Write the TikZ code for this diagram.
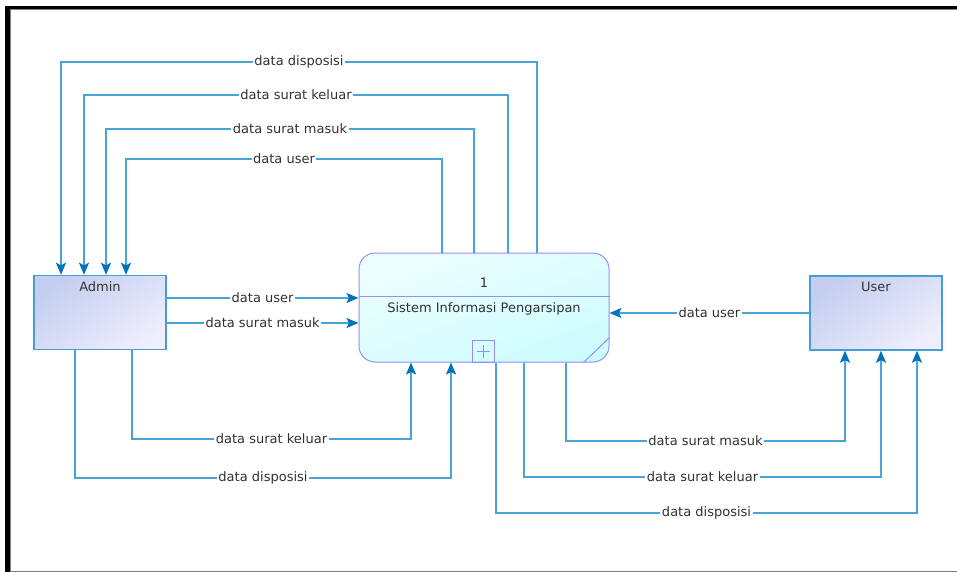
\documentclass[tikz,border=0pt]{standalone}
\usepackage{fontspec}
\setmainfont{DejaVu Sans}
\usetikzlibrary{arrows.meta,positioning}
\definecolor{flowc}{RGB}{72,164,214}
\definecolor{tipc}{RGB}{0,114,188}
\definecolor{entline}{RGB}{70,158,212}
\definecolor{entA}{RGB}{196,206,240}
\definecolor{entB}{RGB}{238,238,252}
\definecolor{procline}{RGB}{150,140,250}
\definecolor{procA}{RGB}{238,255,255}
\definecolor{procB}{RGB}{205,252,255}
\definecolor{txt}{RGB}{50,50,50}

\begin{document}
\begin{tikzpicture}[x=1pt,y=-1pt,
  ent/.style={draw=entline,line width=1.4pt,top color=entA,bottom color=entB,shading angle=35,minimum width=132pt,minimum height=74pt,inner sep=0pt},
  proc/.style={draw=procline,line width=1pt,rounded corners=16pt,top color=procA,bottom color=procB,shading angle=20,minimum width=250pt,minimum height=109pt,inner sep=0pt},
  ttl/.style={text=txt,font=\fontsize{13}{15}\selectfont,inner sep=1pt},
  flow/.style={draw=flowc,line width=1.6pt,-{Stealth[length=12pt,width=10pt,inset=2.5pt,color=tipc]}},
  lbl/.style={fill=white,inner sep=1.5pt,text=txt,font=\fontsize{13}{15}\selectfont}]
\useasboundingbox (0,0) rectangle (957,572);
\fill[black] (5,6) rectangle (957,9.5);
\fill[black] (5,6) rectangle (9.5,572);
\draw[gray,line width=1pt] (10,10) -- (957,10) (10,10) -- (10,571) (10,571) -- (957,571);

\node[ent] (adm) at (100,312.5) {};
\node[ttl,anchor=north] (admt) at ([yshift=-6pt]adm.north) {Admin};
\node[ent] (usr) at (876,313) {};
\node[ttl,anchor=north] (usrt) at ([yshift=-6pt]usr.north) {User};
\node[proc] (proc) at (484,307.5) {};
\draw[procline,line width=1pt] ([yshift=11.5pt]proc.west) -- ([yshift=11.5pt]proc.east);
\node[ttl] (pnum) at (484,283) {1};
\node[ttl] (pname) at (484,309) {Sistem Informasi Pengarsipan};
\node[draw=procline,line width=1pt,minimum size=22pt,inner sep=0pt,anchor=south] (pplus) at ([xshift=-1pt]proc.south) {};
\draw[procline,line width=1pt] ([yshift=-5pt]pplus.north) -- ([yshift=5pt]pplus.south)
  ([xshift=5pt]pplus.west) -- ([xshift=-5pt]pplus.east);
\draw[procline,line width=1pt] ([xshift=-26pt]proc.south east) -- ([yshift=25pt]proc.south east);

\coordinate (t1a) at (537,62); \coordinate (t1b) at (61,62);
\coordinate (t2a) at (508,95); \coordinate (t2b) at (84,95);
\coordinate (t3a) at (474,129); \coordinate (t3b) at (106,129);
\coordinate (t4a) at (442,159); \coordinate (t4b) at (126,159);
\draw[flow] (proc.north -| t1a) -- (t1a) -- node[lbl]{data disposisi} (t1b) -- (adm.north -| t1b);
\draw[flow] (proc.north -| t2a) -- (t2a) -- node[lbl]{data surat keluar} (t2b) -- (adm.north -| t2b);
\draw[flow] (proc.north -| t3a) -- (t3a) -- node[lbl]{data surat masuk} (t3b) -- (adm.north -| t3b);
\draw[flow] (proc.north -| t4a) -- (t4a) -- node[lbl]{data user} (t4b) -- (adm.north -| t4b);

\coordinate (m1) at ([yshift=14.5pt]adm.east);
\coordinate (m2) at ([yshift=-10.5pt]adm.east);
\draw[flow] (m1) -- node[lbl]{data user} (m1 -| proc.west);
\draw[flow] (m2) -- node[lbl]{data surat masuk} (m2 -| proc.west);
\draw[flow] (usr.west) -- node[lbl]{data user} (usr.west -| proc.east);

\coordinate (b1a) at (132,439); \coordinate (b1b) at (411,439);
\coordinate (b2a) at (75,478); \coordinate (b2b) at (451,478);
\draw[flow] (adm.south -| b1a) -- (b1a) -- node[lbl]{data surat keluar} (b1b) -- (proc.south -| b1b);
\draw[flow] (adm.south -| b2a) -- (b2a) -- node[lbl]{data disposisi} (b2b) -- (proc.south -| b2b);

\coordinate (r1a) at (566,441); \coordinate (r1b) at (845,441);
\coordinate (r2a) at (524,477); \coordinate (r2b) at (881,477);
\coordinate (r3a) at (496,513); \coordinate (r3b) at (917,513);
\draw[flow] (proc.south -| r1a) -- (r1a) -- node[lbl]{data surat masuk} (r1b) -- (usr.south -| r1b);
\draw[flow] (proc.south -| r2a) -- (r2a) -- node[lbl]{data surat keluar} (r2b) -- (usr.south -| r2b);
\draw[flow] (proc.south -| r3a) -- (r3a) -- node[lbl]{data disposisi} (r3b) -- (usr.south -| r3b);
\end{tikzpicture}
\end{document}
